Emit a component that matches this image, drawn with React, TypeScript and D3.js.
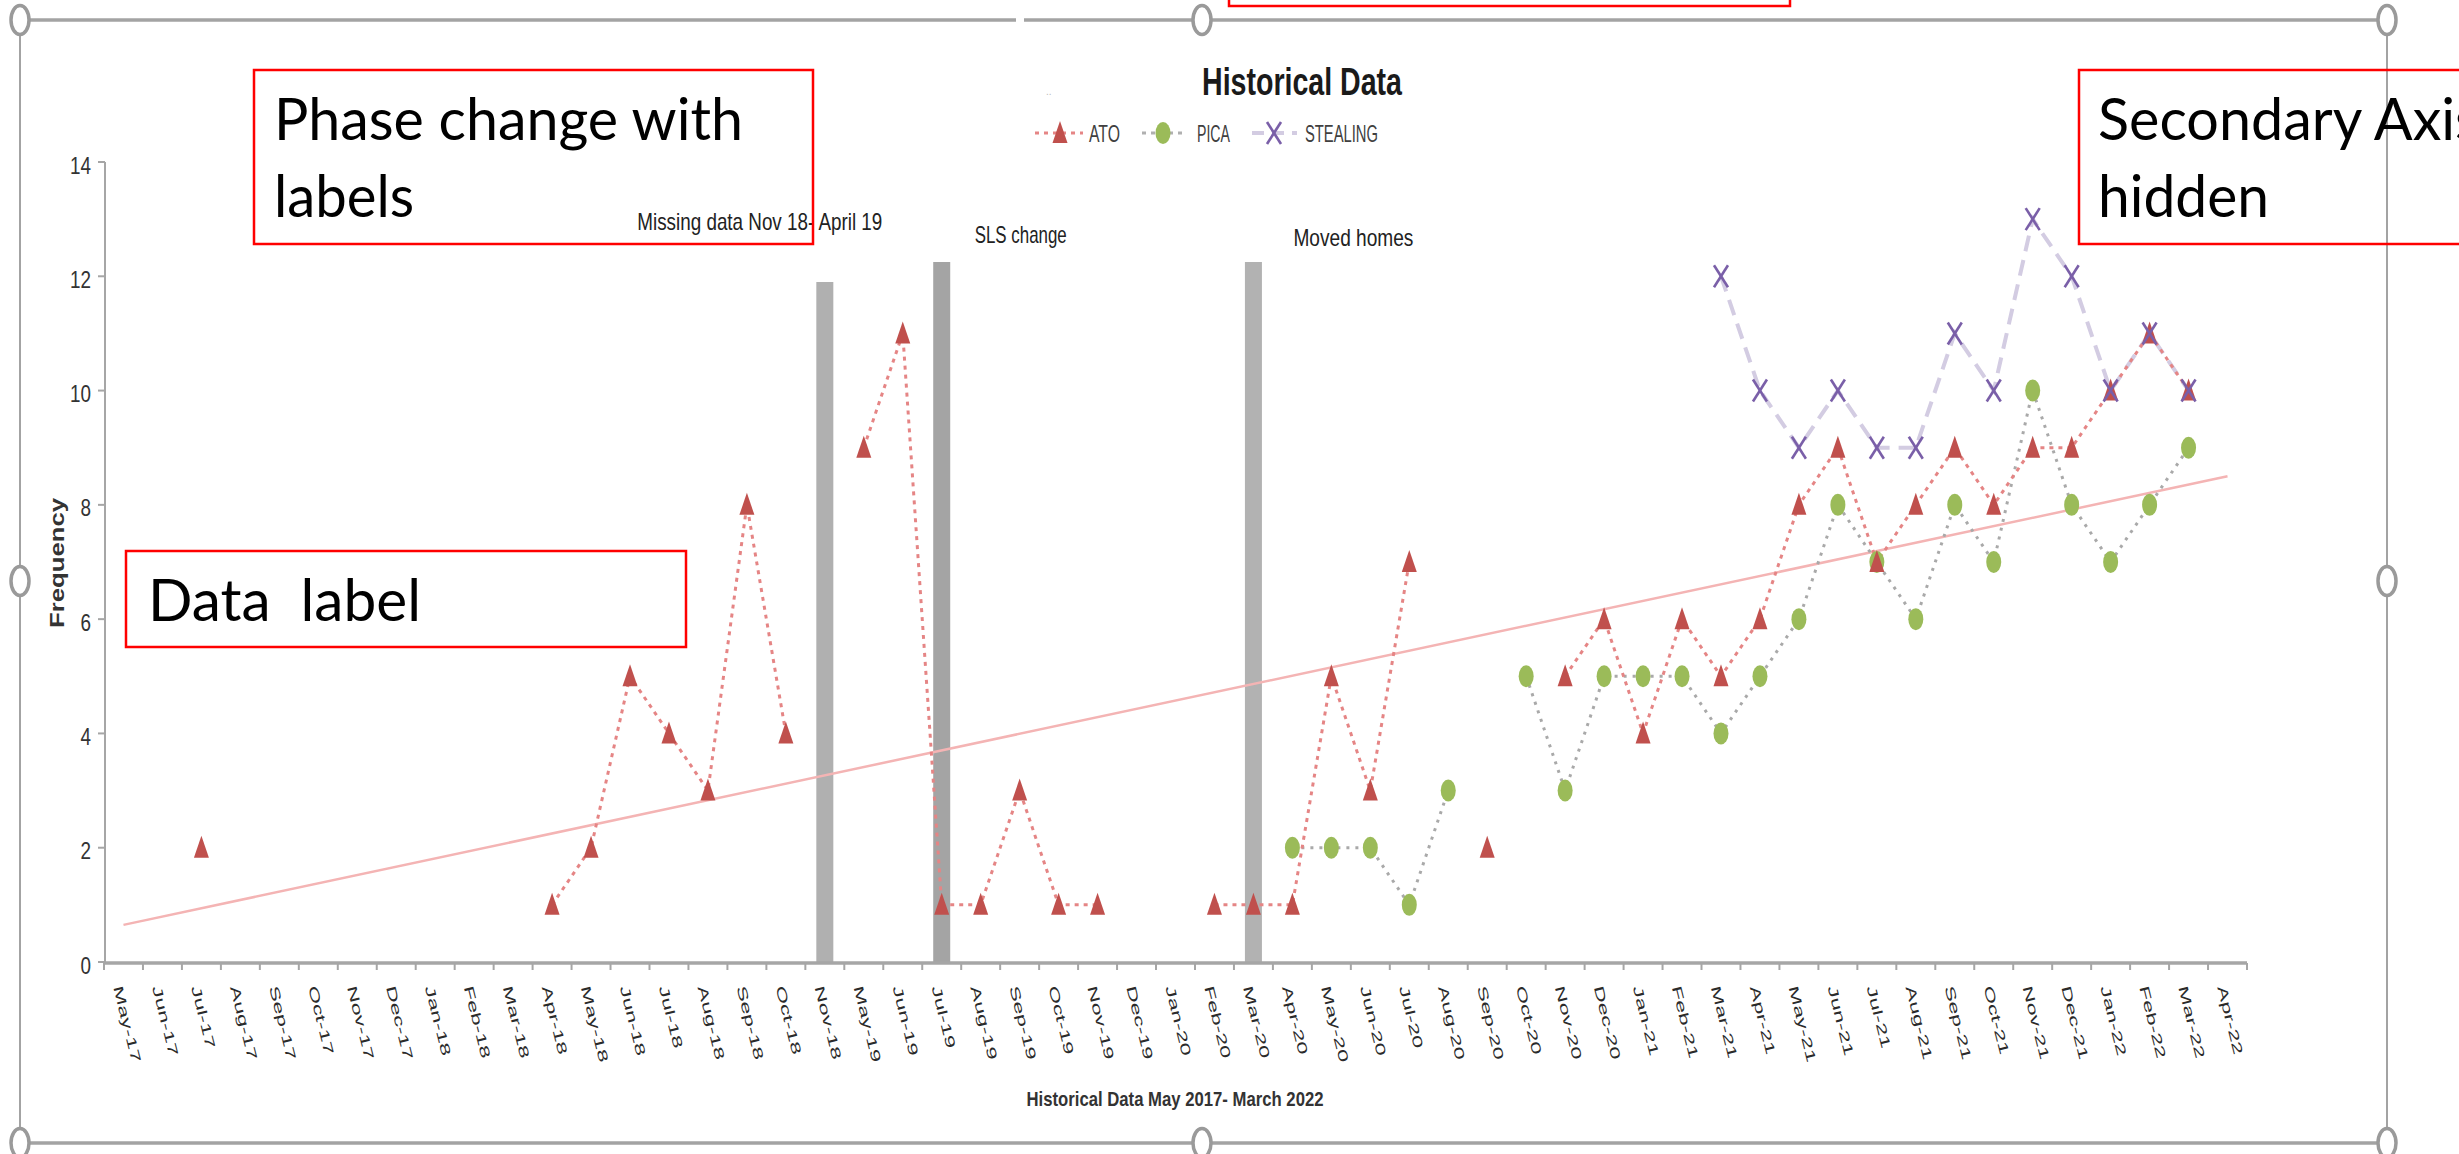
import React from "react";
import * as d3 from "d3";

// ---------- DATA ----------
const months: string[] = [
  "May-17", "Jun-17", "Jul-17", "Aug-17", "Sep-17", "Oct-17", "Nov-17", "Dec-17",
  "Jan-18", "Feb-18", "Mar-18", "Apr-18", "May-18", "Jun-18", "Jul-18", "Aug-18", "Sep-18", "Oct-18", "Nov-18",
  "May-19", "Jun-19", "Jul-19", "Aug-19", "Sep-19", "Oct-19", "Nov-19", "Dec-19",
  "Jan-20", "Feb-20", "Mar-20", "Apr-20", "May-20", "Jun-20", "Jul-20", "Aug-20", "Sep-20", "Oct-20", "Nov-20", "Dec-20",
  "Jan-21", "Feb-21", "Mar-21", "Apr-21", "May-21", "Jun-21", "Jul-21", "Aug-21", "Sep-21", "Oct-21", "Nov-21", "Dec-21",
  "Jan-22", "Feb-22", "Mar-22", "Apr-22",
];

const ato: (number | null)[] = [
  null, null, 2, null, null, null, null, null,
  null, null, null, 1, 2, 5, 4, 3, 8, 4, null,
  9, 11, 1, 1, 3, 1, 1, null,
  null, 1, 1, 1, 5, 3, 7, null, 2, null, 5, 6,
  4, 6, 5, 6, 8, 9, 7, 8, 9, 8, 9, 9,
  10, 11, 10, null,
];

const pica: (number | null)[] = [
  null, null, null, null, null, null, null, null,
  null, null, null, null, null, null, null, null, null, null, null,
  null, null, null, null, null, null, null, null,
  null, null, null, 2, 2, 2, 1, 3, null, 5, 3, 5,
  5, 5, 4, 5, 6, 8, 7, 6, 8, 7, 10, 8,
  7, 8, 9, null,
];

const stealing: (number | null)[] = [
  null, null, null, null, null, null, null, null,
  null, null, null, null, null, null, null, null, null, null, null,
  null, null, null, null, null, null, null, null,
  null, null, null, null, null, null, null, null, null, null, null, null,
  null, null, 12, 10, 9, 10, 9, 9, 11, 10, 13, 12,
  10, 11, 10, null,
];

// linear trendline (ATO) at first / last category
const trendMonths: string[] = ["May-17", "Apr-22"];
const trendValues: number[] = [0.65, 8.5];

const yTicks: number[] = [0, 2, 4, 6, 8, 10, 12, 14];

const phaseMonths: string[] = ["Nov-18", "Jul-19", "Mar-20"];
const phaseHeights: number[] = [11.9, 12.25, 12.25];
const phaseLabels: string[] = ["Missing data Nov 18- April 19", "SLS change", "Moved homes"];

const seriesNames: string[] = ["ATO", "PICA", "STEALING"];

const chartTitle = "Historical Data";
const xTitle = "Historical Data May 2017- March 2022";
const yTitle = "Frequency";

// ---------- LAYOUT / STYLE ----------
const W = 2459;
const H = 1154;
const PLOT = { left: 104, right: 2247, top: 162, bottom: 962 };
const phaseColors = ["#b0b0b0", "#a4a4a4", "#b2b2b2"];
const phaseLabelLayout = [
  { dx: -65, y: 230, w: 245 },
  { dx: 79, y: 243, w: 92 },
  { dx: 100, y: 246, w: 120 },
];
const RED = "#c0504d";
const GREEN = "#9bbb59";
const PURPLE = "#7a5fa8";

const TRI = "M0,-12 L7.5,10 L-7.5,10 Z";

function Tri({ x, y }: { x: number; y: number }) {
  return <path d={TRI} transform={`translate(${x},${y})`} fill={RED} />;
}
function Dot({ x, y }: { x: number; y: number }) {
  return <ellipse cx={x} cy={y} rx={7.5} ry={11} fill={GREEN} />;
}
function Cross({ x, y }: { x: number; y: number }) {
  return (
    <g transform={`translate(${x},${y})`} stroke={PURPLE} strokeWidth={2.6} fill="none">
      <line x1={-7} y1={-11} x2={7} y2={11} />
      <line x1={7} y1={-11} x2={-7} y2={11} />
    </g>
  );
}

function T(props: any) {
  const { x, y, w, size, weight, anchor, fill, family, baseline, children, transform, pre } = props;
  return (
    <text
      x={x}
      y={y}
      fontSize={size}
      fontWeight={weight || "normal"}
      textAnchor={anchor || "start"}
      fill={fill || "#262626"}
      fontFamily={family || "'Liberation Sans', Arial, sans-serif"}
      dominantBaseline={baseline || "alphabetic"}
      textLength={w}
      lengthAdjust="spacingAndGlyphs"
      transform={transform}
      style={pre ? { whiteSpace: "pre" } : undefined}
    >
      {children}
    </text>
  );
}

export default function App() {
  const x = d3.scaleBand<string>().domain(months).range([PLOT.left, PLOT.right]).padding(0);
  const bw = x.bandwidth();
  const cx = (m: string) => (x(m) as number) + bw / 2;
  const y = d3.scaleLinear().domain([0, 14]).range([PLOT.bottom, PLOT.top]);

  const line = d3
    .line<[string, number | null]>()
    .defined((d) => d[1] != null)
    .x((d) => cx(d[0]))
    .y((d) => y(d[1] as number));

  const zip = (vals: (number | null)[]) => months.map((m, i) => [m, vals[i]] as [string, number | null]);
  const trendPath = line(trendMonths.map((m, i) => [m, trendValues[i]] as [string, number]));

  const boundaries = d3.range(months.length + 1).map((i) => PLOT.left + i * bw);

  const frameColor = "#a3a3a3";
  const handles: [number, number][] = [
    [20, 20], [1202, 20], [2387, 20],
    [20, 581], [2387, 581],
    [20, 1143], [1202, 1143], [2387, 1143],
  ];

  const annoFont = "Lato, 'Open Sans', sans-serif";

  return (
    <svg
      width={W}
      height={H}
      viewBox={`0 0 ${W} ${H}`}
      style={{ position: "fixed", left: 0, top: 0, background: "#fff", display: "block" }}
    >
      <rect x={0} y={0} width={W} height={H} fill="#fff" />

      {/* selection frame */}
      <g stroke={frameColor} fill="none">
        <line x1={20} y1={20} x2={1016} y2={20} strokeWidth={3.5} />
        <line x1={1024} y1={20} x2={2387} y2={20} strokeWidth={3.5} />
        <line x1={20} y1={1143} x2={2387} y2={1143} strokeWidth={3.5} />
        <line x1={20} y1={20} x2={20} y2={1143} strokeWidth={2} />
        <line x1={2387} y1={20} x2={2387} y2={1143} strokeWidth={2} />
      </g>
      {handles.map(([hx, hy], i) => (
        <ellipse key={i} cx={hx} cy={hy} rx={9} ry={14.5} fill="#fff" stroke="#9a9a9a" strokeWidth={3.5} />
      ))}

      {/* title */}
      <T x={1202} y={95} w={200} size={38} weight="bold" fill="#1a1a1a">{chartTitle}</T>
      <text x={1046} y={95} fontSize={10} fill="#bbb" fontFamily="sans-serif">..</text>

      {/* legend */}
      <g>
        <line x1={1035} y1={133} x2={1083} y2={133} stroke="#e58585" strokeWidth={3} strokeDasharray="4 5" />
        <Tri x={1060} y={133} />
        <T x={1089} y={142} w={31} size={24} fill="#404040">{seriesNames[0]}</T>
        <line x1={1142} y1={133} x2={1184} y2={133} stroke="#b0b0b0" strokeWidth={3} strokeDasharray="4 5" />
        <Dot x={1163} y={133} />
        <T x={1197} y={142} w={33} size={24} fill="#404040">{seriesNames[1]}</T>
        <line x1={1252} y1={133} x2={1297} y2={133} stroke="#d3cce2" strokeWidth={4} strokeDasharray="12 8" />
        <Cross x={1274} y={133} />
        <T x={1305} y={142} w={73} size={24} fill="#404040">{seriesNames[2]}</T>
      </g>

      {/* phase change bars */}
      {phaseMonths.map((m, i) => (
        <rect
          key={m}
          x={cx(m) - 8.5}
          y={y(phaseHeights[i])}
          width={17}
          height={y(0) - y(phaseHeights[i])}
          fill={phaseColors[i]}
        />
      ))}
      {phaseMonths.map((m, i) => (
        <T
          key={"pl" + m}
          x={cx(m) + phaseLabelLayout[i].dx}
          y={phaseLabelLayout[i].y}
          w={phaseLabelLayout[i].w}
          size={24}
          anchor="middle"
          fill="#222"
        >
          {phaseLabels[i]}
        </T>
      ))}

      {/* y axis */}
      <line x1={PLOT.left + 1} y1={y(14)} x2={PLOT.left + 1} y2={y(0)} stroke="#a6a6a6" strokeWidth={2} />
      {yTicks.map((t) => (
        <g key={t}>
          <line x1={PLOT.left - 6} x2={PLOT.left + 1} y1={y(t)} y2={y(t)} stroke="#a6a6a6" strokeWidth={2} />
          <T x={91} y={y(t) + 3} w={String(t).length * 10.5} size={24} anchor="end" baseline="central" fill="#333">
            {String(t)}
          </T>
        </g>
      ))}
      <T
        x={0}
        y={0}
        w={130}
        size={21}
        weight="bold"
        anchor="middle"
        baseline="central"
        fill="#333"
        transform={`translate(56,563) rotate(-90)`}
      >
        {yTitle}
      </T>

      {/* x axis */}
      <line x1={PLOT.left} y1={y(0) + 1} x2={PLOT.right} y2={y(0) + 1} stroke="#a6a6a6" strokeWidth={3.5} />
      {boundaries.map((bx, i) => (
        <line key={i} x1={bx} x2={bx} y1={y(0) + 1} y2={y(0) + 8} stroke="#a6a6a6" strokeWidth={2} />
      ))}
      {months.map((m) => (
        <text
          key={m}
          transform={`translate(${cx(m) - 1},985) rotate(76) scale(1.3,0.75)`}
          fontSize={18}
          fontFamily="'Liberation Sans', Arial, sans-serif"
          fill="#2a2a2a"
          dominantBaseline="hanging"
        >
          {m}
        </text>
      ))}
      <T x={1175} y={1106} w={297} size={21} weight="bold" anchor="middle" fill="#333">{xTitle}</T>

      {/* trendline */}
      <path d={trendPath || ""} fill="none" stroke="#f4b4b4" strokeWidth={2.5} />

      {/* series lines */}
      <path d={line(zip(stealing)) || ""} fill="none" stroke="#d3cce2" strokeWidth={4} strokeDasharray="16 9" />
      <path d={line(zip(pica)) || ""} fill="none" stroke="#a9a9a9" strokeWidth={3} strokeDasharray="3 6" />
      <path d={line(zip(ato)) || ""} fill="none" stroke="#e58585" strokeWidth={3} strokeDasharray="4 5" />

      {/* markers */}
      {months.map((m, i) => (pica[i] != null ? <Dot key={"p" + m} x={cx(m)} y={y(pica[i] as number)} /> : null))}
      {months.map((m, i) => (ato[i] != null ? <Tri key={"a" + m} x={cx(m)} y={y(ato[i] as number)} /> : null))}
      {months.map((m, i) =>
        stealing[i] != null ? <Cross key={"s" + m} x={cx(m)} y={y(stealing[i] as number)} /> : null
      )}

      {/* annotation callouts */}
      <g fill="none" stroke="#ff0000" strokeWidth={2.5}>
        <rect x={1229} y={-20} width={561} height={26} />
        <rect x={254} y={70} width={559} height={174} />
        <rect x={2079} y={70} width={500} height={174} />
        <rect x={126} y={551} width={560} height={96} />
      </g>
      <T x={274} y={140} w={469} size={58} family={annoFont} fill="#000">Phase change with</T>
      <T x={274} y={217} w={140} size={58} family={annoFont} fill="#000">labels</T>
      <T x={2098} y={140} w={382} size={58} family={annoFont} fill="#000">Secondary Axis</T>
      <T x={2098} y={217} w={171} size={58} family={annoFont} fill="#000">hidden</T>
      <T x={148} y={621} w={273} size={58} family={annoFont} fill="#000" pre>Data  label</T>
    </svg>
  );
}
